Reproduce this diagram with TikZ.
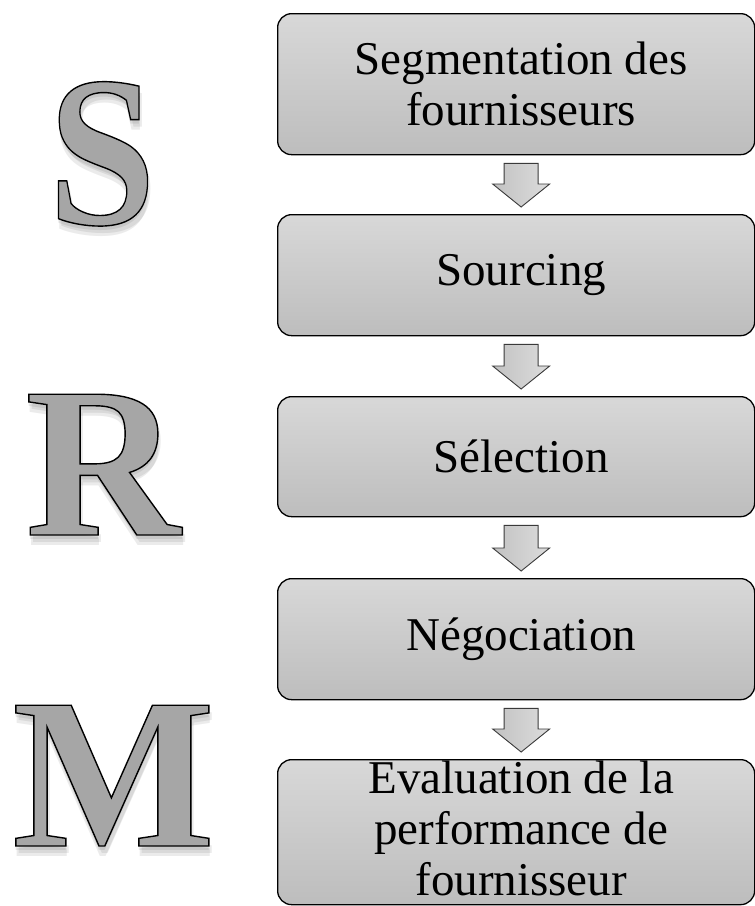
\documentclass[tikz,border=0pt]{standalone}
\usepackage{fontspec}
\setmainfont{Liberation Serif}
\newfontfamily\initialfont{Liberation Serif}[BoldFont={* Bold}]
\usetikzlibrary{calc}

\definecolor{boxtop}{HTML}{D8D8D8}
\definecolor{boxbot}{HTML}{BDBDBD}
\definecolor{letterfill}{HTML}{A6A6A6}
\definecolor{arrowline}{HTML}{3A3A3A}
\definecolor{arrowleft}{HTML}{C2C2C2}
\definecolor{arrowright}{HTML}{DCDCDC}

% outlined glyphs: fill with the current colour, stroke in black
\newcommand\outlinedglyph[1]{%
  \special{pdf:literal direct 2 Tr 1.4 w 0 0 0 RG}#1\special{pdf:literal direct 0 Tr}}

\tikzset{
  stage/.style={draw=black, line width=1.3pt, rounded corners=14pt,
    top color=boxtop, bottom color=boxbot, minimum width=477pt,
    inner sep=0pt, anchor=north west},
  stagetext/.style={font=\fontsize{47}{51}\selectfont, align=center, inner sep=0pt},
  flow/.style={draw=arrowline, line width=0.9pt, left color=arrowleft,
    right color=arrowright, line join=miter},
  bigletter/.style={font=\initialfont\bfseries\fontsize{215}{215}\selectfont,
    inner sep=0pt, anchor=base west, text=letterfill},
  lettershadow/.style={bigletter, text=black, text opacity=0.08},
}

% initial with its soft shadow: name, x, y (baseline), horizontal scale, glyph
\newcommand\initial[5]{%
  \foreach \dx/\dy in {0/4,3/7,1/10}{
    \node[lettershadow] at (#2+\dx,#3+\dy) {\scalebox{#4}[1]{#5}};}
  \node[bigletter] (#1) at (#2,#3) {\scalebox{#4}[1]{\outlinedglyph{#5}}};
}

\begin{document}
\begin{tikzpicture}[x=1pt, y=-1pt]
\useasboundingbox (0,0) rectangle (755,906);

% stages of the process
\node[stage, minimum height=141pt] (b1) at (277,13)  {};
\node[stage, minimum height=121pt] (b2) at (277,214) {};
\node[stage, minimum height=120pt] (b3) at (277,396) {};
\node[stage, minimum height=121pt] (b4) at (277,578) {};
\node[stage, minimum height=145pt] (b5) at (277,759) {};

\node[stagetext] (t1) at ($(b1.center)+(5,0)$) {Segmentation des\\fournisseurs};
\node[stagetext] (t2) at ($(b2.center)+(5,0)$) {Sourcing};
\node[stagetext] (t3) at ($(b3.center)+(5,0)$) {Sélection};
\node[stagetext] (t4) at ($(b4.center)+(5,0)$) {Négociation};
\node[stagetext] (t5) at ($(b5.center)+(5,-4)$) {Evaluation de la\\performance de\\fournisseur};

% block arrows between consecutive stages
\foreach \u/\v in {b1/b2,b2/b3,b3/b4,b4/b5}{
  \coordinate (top-\u) at ($(\u.south)+(5,8)$);
  \coordinate (tip-\u) at ($(\v.north)+(5,-7)$);
  \draw[flow] ($(top-\u)+(-17,0)$) -- ($(top-\u)+(17,0)$)
    -- ($(tip-\u)+(17,-23)$) -- ($(tip-\u)+(28.5,-23)$) -- (tip-\u)
    -- ($(tip-\u)+(-28.5,-23)$) -- ($(tip-\u)+(-17,-23)$) -- cycle;
}

% the initials S, R, M
\initial{S}{48}{224}{0.9}{S}
\initial{R}{25}{535}{1}{R}
\initial{M}{12}{846}{1}{M}
\end{tikzpicture}
\end{document}
